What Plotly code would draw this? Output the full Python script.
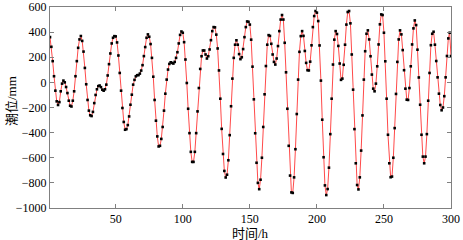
import plotly.graph_objects as go

# Hourly tide level (mm), hours 1..300
seg_a = [360, 283, 169, 49, -66, -151, -180, -157, -71, -10, 14, 0, -37, -85, -146, -186, -192, -146, -71, 49, 169, 275, 342, 369]
seg_b = [330, 245, 115, -15, -140, -225, -262, -268, -235, -165, -100, -55, -30, -25, -38, -58, -66, -55, -18, 55, 145, 230, 310, 355, 368]
seg_c = [366, 318, 214, 75, -66, -204, -315, -377, -372, -340, -271, -178, -98, -18, 20, 48, 57, 58, 70, 94, 137, 209, 281, 355, 382]
seg_d = [363, 305, 195, 45, -140, -305, -430, -510, -505, -450, -355, -225, -90, 22, 102, 147, 160, 155, 150, 163, 195, 240, 310, 378, 405]
seg_e = [395, 320, 182, -5, -210, -404, -553, -633, -633, -553, -404, -231, -45, 107, 208, 254, 254, 222, 190, 208, 262, 336, 408, 440, 438]
seg_f = [380, 270, 95, -130, -370, -570, -705, -757, -735, -620, -420, -190, 30, 195, 300, 335, 300, 225, 185, 200, 265, 360, 440, 485, 482]
seg_g = [460, 340, 125, -135, -405, -640, -800, -850, -775, -600, -355, -95, 130, 300, 376, 370, 307, 222, 163, 142, 190, 289, 408, 500, 536]
seg_h = [500, 315, 80, -210, -505, -742, -876, -880, -756, -532, -252, 22, 243, 368, 408, 370, 250, 155, 97, 95, 165, 295, 440, 528, 568]
seg_i = [555, 488, 294, 14, -297, -596, -820, -897, -849, -679, -412, -130, 142, 340, 408, 385, 290, 150, 20, 30, 140, 300, 460, 560, 568]
seg_j = [470, 222, -58, -372, -644, -817, -852, -756, -543, -263, 22, 248, 387, 414, 342, 208, 62, -50, -71, -10, 128, 302, 462, 541, 536]
seg_k = [395, 168, -130, -417, -644, -755, -750, -600, -364, -92, 163, 342, 414, 382, 257, 97, -50, -138, -140, -45, 128, 302, 430, 493, 456]
seg_l = [260, 39, -178, -417, -591, -644, -591, -412, -146, 75, 296, 387, 403, 300, 170, 40, -90, -180, -222, -200, -110, 40, 210, 350, 395, 210]

tide_mm = seg_a + seg_b + seg_c + seg_d + seg_e + seg_f + seg_g + seg_h + seg_i + seg_j + seg_k + seg_l
hours = list(range(1, len(tide_mm) + 1))

x_ticks = [50, 100, 150, 200, 250, 300]
y_ticks = [-1000, -800, -600, -400, -200, 0, 200, 400, 600]
x_title = "时间/h"
y_title = "潮位/mm"

serif = "Liberation Serif, Times New Roman, Noto Sans CJK SC, serif"

fig = go.Figure()
fig.add_trace(go.Scatter(
    x=hours, y=tide_mm, mode="lines+markers",
    line=dict(color="#ff4a4a", width=1),
    marker=dict(color="black", size=2.6, symbol="square"),
    showlegend=False,
))

axis_common = dict(
    showgrid=False, zeroline=False, automargin=False,
    showline=True, linecolor="#808080", linewidth=1,
    mirror="ticks", ticks="inside", ticklen=4, tickcolor="#808080", tickwidth=1,
    tickfont=dict(family=serif, size=12, color="black"),
)

fig.update_xaxes(range=[1, 300], tickvals=x_ticks, **axis_common)
fig.update_yaxes(range=[-1000, 600], tickvals=y_ticks, **axis_common)

fig.update_layout(
    width=463, height=240,
    margin=dict(l=50, r=12, t=7, b=32),
    paper_bgcolor="white", plot_bgcolor="white",
    annotations=[
        dict(text=x_title, xref="paper", yref="paper", x=0.5, y=0, yshift=-16,
             xanchor="center", yanchor="top", showarrow=False,
             font=dict(family=serif, size=13, color="black")),
        dict(text=y_title, xref="paper", yref="paper", x=0, y=0.5, xshift=-29, yshift=6,
             xanchor="right", yanchor="middle", textangle=-90, showarrow=False,
             font=dict(family=serif, size=13, color="black")),
    ],
)

fig.write_html("out.html", config={"displayModeBar": False},
               post_script="document.body.style.margin='0';document.body.style.overflow='hidden';")
